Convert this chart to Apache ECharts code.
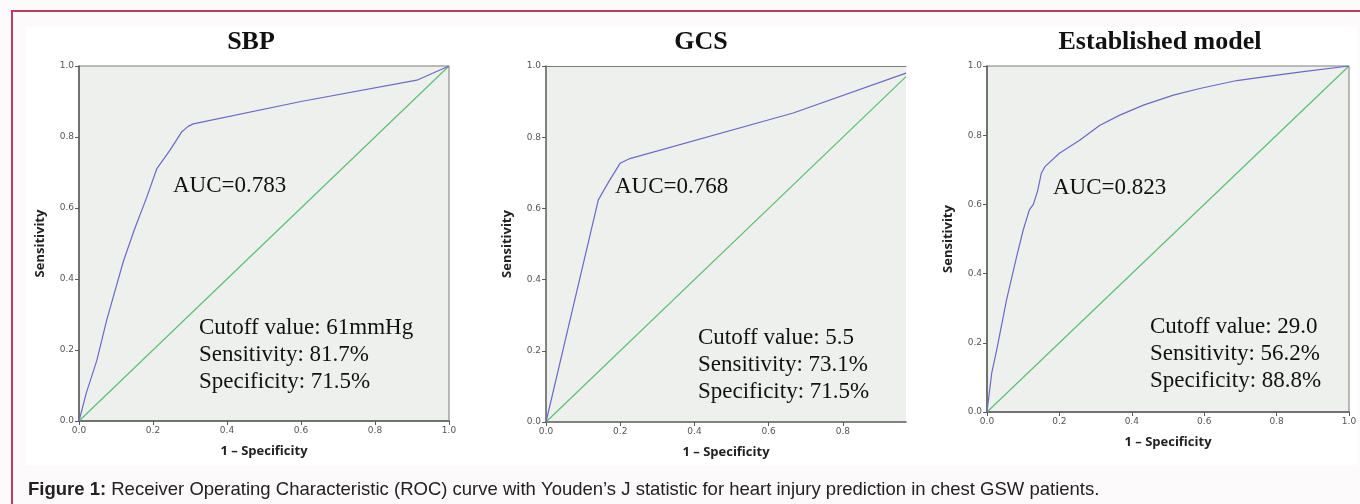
<!DOCTYPE html>
<html><head><meta charset="utf-8">
<script src="https://cdn.jsdelivr.net/npm/echarts@6/dist/echarts.min.js"></script>
<style>html,body{margin:0;padding:0;background:#fcfafb}#c{width:1360px;height:504px}</style>
</head><body><div id="c"></div>
<script>
// ---- data ----
const panelTitles = ['SBP', 'GCS', 'Established model'];
const aucTexts = ['AUC=0.783', 'AUC=0.768', 'AUC=0.823'];
const cutoffTexts = [
  ['Cutoff value: 61mmHg', 'Sensitivity: 81.7%', 'Specificity: 71.5%'],
  ['Cutoff value: 5.5', 'Sensitivity: 73.1%', 'Specificity: 71.5%'],
  ['Cutoff value: 29.0', 'Sensitivity: 56.2%', 'Specificity: 88.8%']
];
const tickValues = [0, 0.2, 0.4, 0.6, 0.8, 1.0];
const gcsXTicks = [0, 0.2, 0.4, 0.6, 0.8];
const xAxisMax = [1, 0.97, 1];

const sbpX = [0, 0.02, 0.048, 0.075, 0.12, 0.15, 0.183, 0.21, 0.246, 0.278, 0.295, 0.309, 0.6, 0.913, 1];
const sbpY = [0, 0.08, 0.17, 0.285, 0.45, 0.54, 0.63, 0.71, 0.763, 0.815, 0.83, 0.837, 0.9, 0.96, 1];
const gcsX = [0, 0.141, 0.172, 0.2, 0.226, 0.666, 0.97];
const gcsY = [0, 0.624, 0.68, 0.727, 0.74, 0.868, 0.98];
const estX = [0, 0.005, 0.013, 0.027, 0.054, 0.082, 0.1, 0.117, 0.128, 0.14, 0.15, 0.16, 0.2, 0.257, 0.312, 0.367, 0.432, 0.515, 0.588, 0.69, 0.78, 0.874, 1];
const estY = [0, 0.044, 0.112, 0.18, 0.324, 0.45, 0.526, 0.584, 0.6, 0.64, 0.69, 0.709, 0.748, 0.786, 0.829, 0.858, 0.887, 0.916, 0.935, 0.958, 0.971, 0.984, 1];
const diagX = [[0, 1], [0, 0.97], [0, 1]];
const diagY = [[0, 1], [0, 0.97], [0, 1]];
const caption = ['Figure 1:', ' Receiver Operating Characteristic (ROC) curve with Youden\u2019s J statistic for heart injury prediction in chest GSW patients.'];

// ---- layout ----
const grids = [
  {left: 79, top: 66, width: 370, height: 355},
  {left: 546, top: 66, width: 360, height: 356},
  {left: 987, top: 66, width: 362, height: 346}
];
const titlePos = [[251, 42], [701, 42], [1160, 42]];
const aucPos = [[173, 186], [615, 187], [1053, 188]];
const cutPos = [[199, 328], [698, 338], [1150, 327]];

const curves = [[sbpX, sbpY], [gcsX, gcsY], [estX, estY]];
const pair = (xs, ys) => xs.map((x, i) => [x, ys[i]]);

const axisCol = '#5a5a5a';
const labelStyle = {fontFamily: 'DejaVu Sans', fontSize: 9, color: '#555'};
const nameStyle = {fontFamily: 'Open Sans', fontWeight: 'bold', fontSize: 13, color: '#222'};

const xAxes = [], yAxes = [], series = [], graphics = [];

graphics.push({type: 'rect', shape: {x: 0, y: 0, width: 1360, height: 504}, style: {fill: '#fcfafb'}, z: -10});
graphics.push({type: 'rect', shape: {x: 26, y: 27, width: 1331, height: 438}, style: {fill: '#ffffff'}, z: -9});
graphics.push({type: 'rect', shape: {x: 11, y: 10, width: 1349, height: 2}, style: {fill: '#c23a5e'}, z: -8});
graphics.push({type: 'rect', shape: {x: 11, y: 10, width: 2, height: 494}, style: {fill: '#c23a5e'}, z: -8});

grids.forEach((g, i) => {
  g.show = true;
  g.backgroundColor = '#eef0ee';
  g.borderWidth = i === 1 ? 0 : 1;
  g.borderColor = '#7a7a7a';
  g.containLabel = false;
  const xt = i === 1 ? gcsXTicks : tickValues;
  xAxes.push({
    type: 'value', gridIndex: i, min: 0, max: xAxisMax[i], interval: 0.2,
    splitLine: {show: false},
    axisLine: {show: true, lineStyle: {color: axisCol, width: 1.5}},
    axisTick: {show: true, length: 4, lineStyle: {color: axisCol}, customValues: xt},
    axisLabel: {...labelStyle, margin: 5, customValues: xt, formatter: v => v.toFixed(1)},
    name: '1 \u2013 Specificity', nameLocation: 'middle', nameGap: 24, nameTextStyle: nameStyle
  });
  yAxes.push({
    type: 'value', gridIndex: i, min: 0, max: 1, interval: 0.2,
    splitLine: {show: false},
    axisLine: {show: true, lineStyle: {color: axisCol, width: 1.5}},
    axisTick: {show: true, length: 4, lineStyle: {color: axisCol}},
    axisLabel: {...labelStyle, margin: 5, formatter: v => v.toFixed(1)},
    name: 'Sensitivity', nameLocation: 'middle', nameGap: 32, nameTextStyle: nameStyle
  });
  series.push({
    type: 'line', xAxisIndex: i, yAxisIndex: i, data: pair(diagX[i], diagY[i]),
    showSymbol: false, silent: true, lineStyle: {color: '#5cbf74', width: 1.2}, z: 2
  });
  series.push({
    type: 'line', xAxisIndex: i, yAxisIndex: i, data: pair(curves[i][0], curves[i][1]),
    showSymbol: false, silent: true, lineStyle: {color: '#6a6ac4', width: 1.2}, z: 3
  });
  graphics.push({type: 'text', x: titlePos[i][0], y: titlePos[i][1], style: {
    text: panelTitles[i], fill: '#111', font: 'bold 26px "Liberation Serif"', align: 'center', verticalAlign: 'middle'}});
  graphics.push({type: 'text', x: aucPos[i][0], y: aucPos[i][1], style: {
    text: aucTexts[i], fill: '#111', font: '23px "Liberation Serif"', align: 'left', verticalAlign: 'middle'}});
  cutoffTexts[i].forEach((t, k) => {
    graphics.push({type: 'text', x: cutPos[i][0], y: cutPos[i][1] + k * 27, style: {
      text: t, fill: '#111', font: '23px "Liberation Serif"', align: 'left', verticalAlign: 'middle'}});
  });
});
// top border line for the GCS panel (its right side is cut off in the reference)
xAxes.push({type: 'value', gridIndex: 1, position: 'top', min: 0, max: xAxisMax[1],
  axisLine: {show: true, lineStyle: {color: '#7a7a7a', width: 1}}, axisTick: {show: false},
  axisLabel: {show: false}, splitLine: {show: false}});

graphics.push({type: 'text', x: 28, y: 490, style: {
  text: '{b|' + caption[0] + '}{r|' + caption[1] + '}', verticalAlign: 'middle',
  rich: {b: {font: 'bold 18.5px "Liberation Sans"', fill: '#222'}, r: {font: '18.5px "Liberation Sans"', fill: '#222'}}}});

const chart = echarts.init(document.getElementById('c'), null, {renderer: 'canvas'});
chart.setOption({
  animation: false,
  backgroundColor: '#fcfafb',
  grid: grids, xAxis: xAxes, yAxis: yAxes, series: series, graphic: graphics
});
</script></body></html>
